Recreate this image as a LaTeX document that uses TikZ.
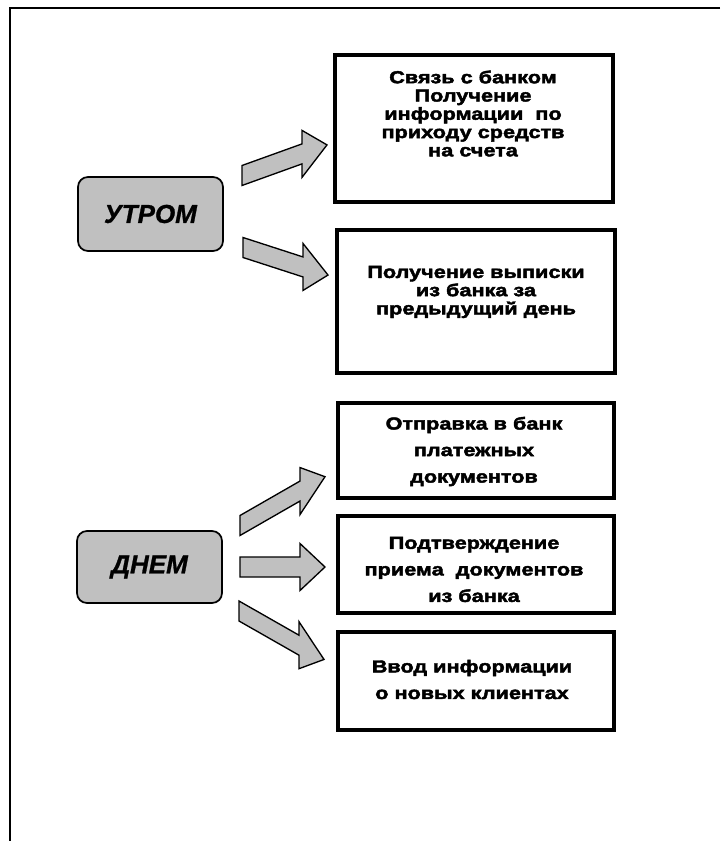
\documentclass[tikz,border=0pt]{standalone}
\usepackage{fontspec}
\setmainfont{Liberation Sans}
\newfontfamily\taskfont{Liberation Sans}[FakeStretch=1.25, FakeBold=2.5]
\newfontfamily\periodfont{Liberation Sans}[FakeBold=1]
\definecolor{boxgray}{HTML}{C0C0C0}

\tikzset{
  frameline/.style={line width=2.2pt},
  taskbox/.style={draw, line width=2.4pt, fill=white, inner sep=0pt},
  tasktext/.style={inner sep=0pt, align=center,
    font=\taskfont\bfseries\fontsize{13}{13.7}\selectfont},
  widetext/.style={tasktext, font=\taskfont\bfseries\fontsize{13}{19.9}\selectfont},
  timebox/.style={draw, line width=1.3pt, fill=boxgray, rounded corners=7.5pt,
    inner sep=0pt, minimum width=108.75pt,
    font=\periodfont\bfseries\itshape\fontsize{19.5}{22}\selectfont},
  arrowbody/.style={draw, line width=1pt, fill=boxgray, line join=miter},
}

% block arrow sheared along its axis: #1 tail point, #2 slant factor
\newcommand\blockarrow[2]{%
  \draw[arrowbody, shift={(#1)}, yslant=#2]
    (0,-10) -- (60,-10) -- (60,-23.5) -- (85,0) -- (60,23.5) -- (60,10) -- (0,10) -- cycle;}

\begin{document}
\begin{tikzpicture}[x=0.75pt, y=-0.75pt]
  \useasboundingbox (0,0) rectangle (720,841);

  % open frame: top and left edges
  \coordinate (tl) at (10,8);
  \coordinate (tr) at (720,8);
  \coordinate (bl) at (10,841);
  \draw[frameline] (tr) -- (tl) -- (bl);

  % periods of the day
  \node[timebox, minimum height=55.5pt] (morning) at (150.5,214) {УТРОМ};
  \node[timebox, minimum height=54pt] (day) at (149.5,567) {ДНЕМ};

  % tasks
  \node[taskbox, minimum width=208.5pt, minimum height=110.25pt] (b1) at (474,128.5) {};
  \node[taskbox, minimum width=208.5pt, minimum height=107.25pt] (b2) at (476,301.5) {};
  \node[taskbox, minimum width=207pt, minimum height=71.25pt] (b3) at (476,450.5) {};
  \node[taskbox, minimum width=207pt, minimum height=72.75pt] (b4) at (476,564.5) {};
  \node[taskbox, minimum width=207pt, minimum height=73.5pt] (b5) at (476,681) {};

  \node[tasktext] (t1) at (473,113.5)
    {Связь с банком\\Получение\\информации\ \ по\\приходу средств\\на счета};
  \node[tasktext] (t2) at (476,292)
    {Получение выписки\\из банка за\hspace*{1.3em}\\предыдущий день};
  \node[widetext] (t3) at (474,451.5)
    {Отправка в банк\\платежных\\документов};
  \node[widetext] (t4) at (474,569.5)
    {Подтверждение\\приема\ \ документов\\из банка};
  \node[widetext] (t5) at (472,679.5)
    {Ввод информации\\о новых клиентах};

  % arrow tails, next to the period boxes
  \coordinate (m1) at (242,175.5);
  \coordinate (m2) at (243,247.5);
  \coordinate (d1) at (240,525.5);
  \coordinate (d2) at (240,567);
  \coordinate (d3) at (239,611);

  \blockarrow{m1}{0.36}
  \blockarrow{m2}{-0.324}
  \blockarrow{d1}{0.574}
  \blockarrow{d2}{0}
  \blockarrow{d3}{-0.57}
\end{tikzpicture}
\end{document}
